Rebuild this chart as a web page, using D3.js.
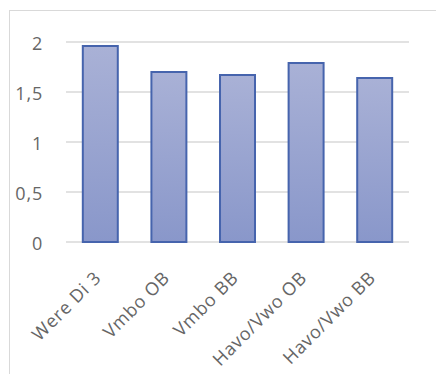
<!DOCTYPE html>
<html>
<head>
<meta charset="utf-8">
<script src="https://cdn.jsdelivr.net/npm/d3@7"></script>
<style>
  html, body { margin: 0; padding: 0; background: #fff; }
  svg { display: block; }
  text { font-family: "Open Sans", "Noto Sans", sans-serif; fill: #666666; letter-spacing: 0.8px; }
</style>
</head>
<body>
<svg id="chart" width="436" height="374"></svg>
<script>
// Categories and their average scores
const categories = ["Were Di 3", "Vmbo OB", "Vmbo BB", "Havo/Vwo OB", "Havo/Vwo BB"];
const values = [1.96, 1.70, 1.67, 1.79, 1.64];
const yTicks = [0, 0.5, 1, 1.5, 2];
const yTickLabels = ["0", "0,5", "1", "1,5", "2"];

const svg = d3.select("#chart");
const W = 436, H = 374;
const plot = { left: 66, right: 409, top: 42, bottom: 242 };

// Outer chart frame (extends past the visible area on the right and bottom)
svg.append("rect")
  .attr("x", 9.5).attr("y", 10.5)
  .attr("width", W + 20).attr("height", H + 20)
  .attr("fill", "#fff")
  .attr("stroke", "#d9d9d9")
  .attr("stroke-width", 1);

const x = d3.scaleBand()
  .domain(categories)
  .range([plot.left, plot.right])
  .paddingInner(0.49)
  .paddingOuter(0.245);

const y = d3.scaleLinear()
  .domain([0, 2])
  .range([plot.bottom, plot.top]);

// Bar gradient
const defs = svg.append("defs");
const grad = defs.append("linearGradient")
  .attr("id", "barFill")
  .attr("x1", 0).attr("y1", 0).attr("x2", 0).attr("y2", 1);
grad.append("stop").attr("offset", "0%").attr("stop-color", "#a9b1d6");
grad.append("stop").attr("offset", "100%").attr("stop-color", "#8997ca");

// Horizontal gridlines
svg.append("g")
  .selectAll("line")
  .data(yTicks)
  .join("line")
  .attr("x1", plot.left).attr("x2", plot.right)
  .attr("y1", d => y(d)).attr("y2", d => y(d))
  .attr("stroke", "#d9d9d9")
  .attr("stroke-width", 1.5);

// Y axis labels
svg.append("g")
  .selectAll("text")
  .data(yTicks)
  .join("text")
  .attr("x", 43)
  .attr("y", d => y(d))
  .attr("dy", "0.42em")
  .attr("text-anchor", "end")
  .attr("font-size", 18)
  .text((d, i) => yTickLabels[i]);

// Bars
svg.append("g")
  .selectAll("rect")
  .data(values)
  .join("rect")
  .attr("x", (d, i) => x(categories[i]))
  .attr("y", d => y(d))
  .attr("width", x.bandwidth())
  .attr("height", d => y(0) - y(d))
  .attr("fill", "url(#barFill)")
  .attr("stroke", "#4664ad")
  .attr("stroke-width", 2);

// Rotated category labels
svg.append("g")
  .selectAll("text")
  .data(categories)
  .join("text")
  .attr("transform", d => `translate(${x(d) + x.bandwidth() / 2 + 2},${plot.bottom + 37}) rotate(-45)`)
  .attr("text-anchor", "end")
  .attr("font-size", 18)
  .text(d => d);
</script>
</body>
</html>
